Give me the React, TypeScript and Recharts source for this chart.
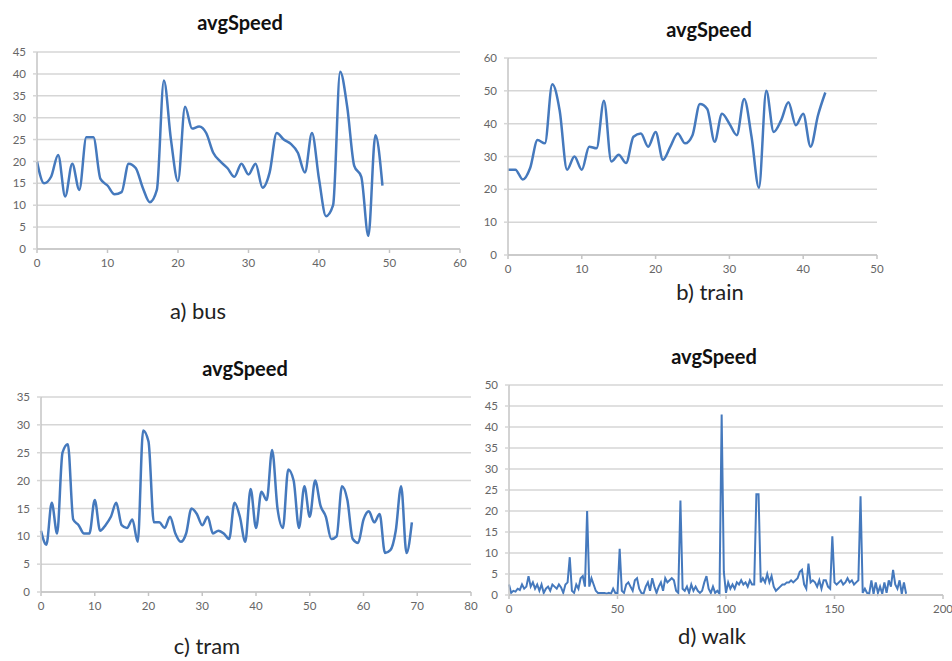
import { LineChart, Line, XAxis, YAxis, CartesianGrid } from "recharts";

// values, index = x position
const busSpeed = [
  20, 15, 16.5, 21.5, 12, 19.5, 13.5, 25.5, 25.5, 16, 14.5, 12.5, 13, 19.5, 18.5, 14, 10.7, 13.5, 38.5, 25,
  15.5, 32.5, 27.5, 28, 26.5, 22, 20, 18.5, 16.5, 19.5, 17, 19.5, 14, 17.5, 26.5, 25, 24, 22, 17.5, 26.5,
  16, 7.5, 10, 40.5, 32.5, 19, 16.5, 3, 26, 14.5,
];
const trainSpeed = [
  26, 26, 23, 26.5, 35, 34, 52, 44, 26, 30, 26, 33, 32.5, 47, 28.5, 30.5, 28, 36, 37, 33,
  37.5, 29, 33, 37, 34, 36.5, 46, 44.5, 34.5, 43, 40, 36.5, 47.5, 36, 20.5, 50, 37.5, 41, 46.5, 39.5,
  43, 33, 42.5, 49.5,
];
const tramSpeed = [
  11, 8.5, 16, 10.5, 25, 26.5, 13, 12, 10.5, 10.5, 16.5, 11, 12, 13.5, 16, 12, 11.5, 13, 9, 29,
  27, 12.5, 12.5, 11.5, 13.5, 10.5, 9, 10.5, 15, 14, 12, 13.5, 10.5, 11, 10.5, 9.5, 16, 13.5, 9, 18.5,
  11.5, 18, 16.5, 25.5, 15, 11.5, 22, 20, 11.5, 19, 13.5, 20, 15.5, 13.5, 9.5, 10, 19, 16.5, 9.5, 8.8,
  13, 14.5, 12.5, 14, 7, 7.5, 11, 19, 7, 12.5,
];
const walkSpeed = [
  2.5, 0.5, 1, 0.8, 1.5, 1.2, 2.5, 1.5, 2, 4.5, 2, 3, 1.5, 2.5, 1, 2.5, 0.5, 1.5, 2, 1,
  2.5, 2, 1.5, 2.5, 1.8, 0.5, 2.5, 3, 9, 1, 0.5, 2.5, 1.5, 4, 4.5, 2, 20, 2, 4, 2.5,
  1, 0.5, 0.5, 0.5, 0.5, 0.3, 0.5, 0.3, 1.5, 0.5, 0.5, 11, 1, 0.5, 2.5, 3, 2, 1, 3.5, 4,
  1.5, 0.5, 0.3, 2, 3, 1, 4, 2, 0.5, 2, 3, 1, 4, 3, 3.5, 4, 3.5, 1, 0.5, 22.5,
  1.5, 1, 2, 0.5, 2.5, 1, 2, 1, 0.5, 1, 3, 4.5, 1.5, 0.5, 2, 0.5, 1, 0.3, 43, 5.5,
  0.5, 3, 1.5, 2.5, 1.5, 3, 2.5, 3.5, 2.5, 3, 2, 3.5, 2.5, 2.5, 24, 24, 3, 4, 3, 5,
  3, 4.5, 2, 1, 1.5, 2, 2.5, 2.5, 3, 3, 3.5, 3, 3.5, 4, 5.5, 6, 2.5, 1.5, 7.5, 3,
  3.5, 3, 2, 3.5, 1.5, 3.5, 3.5, 2, 1.5, 14, 3, 2.5, 3, 3.5, 2.5, 3, 4, 3, 3.5, 2.5,
  3, 3.5, 23.5, 0.5, 1.5, 0.5, 0.3, 3.5, 0.3, 3, 0.5, 2, 0.3, 3, 0.5, 3.5, 2, 6, 2.5, 1.5,
  3.5, 0.3, 3, 0.3,
];

const busTicksX = [0, 10, 20, 30, 40, 50, 60];
const busTicksY = [0, 5, 10, 15, 20, 25, 30, 35, 40, 45];
const trainTicksX = [0, 10, 20, 30, 40, 50];
const trainTicksY = [0, 10, 20, 30, 40, 50, 60];
const tramTicksX = [0, 10, 20, 30, 40, 50, 60, 70, 80];
const tramTicksY = [0, 5, 10, 15, 20, 25, 30, 35];
const walkTicksX = [0, 50, 100, 150, 200];
const walkTicksY = [0, 5, 10, 15, 20, 25, 30, 35, 40, 45, 50];

const TITLE = "avgSpeed";
const FONT = "Lato, 'Open Sans', sans-serif";
const LINE_BLUE = "#4579bd";
const GRID = "#d6d6d6";
const AXIS = "#c4c4c4";

function Panel({
  values,
  ticksX,
  ticksY,
  plot,
  curve,
  width,
}: {
  values: number[];
  ticksX: number[];
  ticksY: number[];
  plot: { l: number; t: number; r: number; b: number };
  curve: "monotone" | "linear";
  width: number;
}) {
  const data = values.map((v, i) => ({ x: i, v }));
  const w = plot.r - plot.l + 40 + 14;
  const h = plot.b - plot.t + 12 + 30;
  const tick = { fill: "#666", fontSize: 11.5, fontFamily: FONT };
  return (
    <div style={{ position: "absolute", left: plot.l - 40, top: plot.t - 12 }}>
      <LineChart width={w} height={h} data={data} margin={{ top: 12, right: 14, left: 0, bottom: 0 }}>
        <CartesianGrid vertical={false} stroke={GRID} strokeWidth={1.5} />
        <XAxis
          dataKey="x"
          type="number"
          domain={[ticksX[0], ticksX[ticksX.length - 1]]}
          ticks={ticksX}
          height={30}
          tick={tick}
          tickSize={4}
          tickMargin={6}
          stroke={AXIS}
          axisLine={{ stroke: AXIS, strokeWidth: 1.5 }}
          tickLine={{ stroke: AXIS, strokeWidth: 1.5 }}
          interval={0}
        />
        <YAxis
          type="number"
          domain={[ticksY[0], ticksY[ticksY.length - 1]]}
          ticks={ticksY}
          width={40}
          tick={tick}
          tickSize={4}
          tickMargin={7}
          axisLine={{ stroke: AXIS, strokeWidth: 1.5 }}
          tickLine={{ stroke: GRID, strokeWidth: 1.5 }}
          interval={0}
        />
        <Line
          type={curve}
          dataKey="v"
          stroke={LINE_BLUE}
          strokeWidth={width}
          dot={false}
          isAnimationActive={false}
        />
      </LineChart>
    </div>
  );
}

function Text({ x, y, size, bold, children }: { x: number; y: number; size: number; bold?: boolean; children: string }) {
  return (
    <div
      style={{
        position: "absolute",
        left: x,
        top: y,
        transform: "translate(-50%, -50%)",
        fontFamily: FONT,
        fontSize: size,
        fontWeight: bold ? 700 : 400,
        lineHeight: 1,
        color: bold ? "#111" : "#222",
        whiteSpace: "nowrap",
      }}
    >
      {children}
    </div>
  );
}

export default function App() {
  return (
    <div
      style={{
        position: "fixed",
        left: 0,
        top: 0,
        width: 952,
        height: 661,
        background: "#fff",
        overflow: "hidden",
      }}
    >
      <Text x={240} y={22} size={20} bold>{TITLE}</Text>
      <Panel values={busSpeed} ticksX={busTicksX} ticksY={busTicksY} plot={{ l: 37, t: 52, r: 460, b: 249 }} curve="monotone" width={2.5} />
      <Text x={198} y={311} size={22}>a) bus</Text>

      <Text x={709} y={29} size={20} bold>{TITLE}</Text>
      <Panel values={trainSpeed} ticksX={trainTicksX} ticksY={trainTicksY} plot={{ l: 508, t: 58, r: 877, b: 255 }} curve="monotone" width={2.5} />
      <Text x={710} y={292} size={22}>b) train</Text>

      <Text x={245} y={368} size={20} bold>{TITLE}</Text>
      <Panel values={tramSpeed} ticksX={tramTicksX} ticksY={tramTicksY} plot={{ l: 41, t: 397, r: 471, b: 592 }} curve="monotone" width={2.5} />
      <Text x={207} y={646} size={22}>c) tram</Text>

      <Text x={714} y={356} size={20} bold>{TITLE}</Text>
      <Panel values={walkSpeed} ticksX={walkTicksX} ticksY={walkTicksY} plot={{ l: 509, t: 385, r: 943, b: 595 }} curve="linear" width={2} />
      <Text x={712} y={636} size={22}>d) walk</Text>
    </div>
  );
}
